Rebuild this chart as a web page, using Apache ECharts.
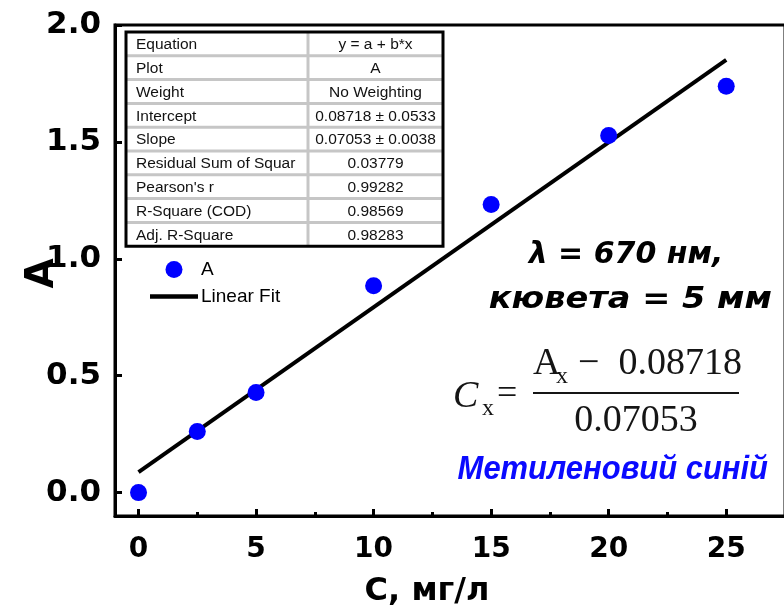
<!DOCTYPE html>
<html>
<head>
<meta charset="utf-8">
<script src="https://cdn.jsdelivr.net/npm/echarts@6/dist/echarts.min.js"></script>
<style>
  html, body { margin: 0; padding: 0; background: #ffffff; }
  #chart { width: 784px; height: 608px; }
</style>
</head>
<body>
<div id="chart"></div>
<script>
// Calibration points: concentration (mg/L) vs absorbance
const concentration = [0, 2.5, 5, 10, 15, 20, 25];
const absorbance = [0.0, 0.261, 0.428, 0.885, 1.232, 1.527, 1.738];

// Linear fit parameters y = a + b*x
const fitIntercept = 0.08718;
const fitSlope = 0.07053;
const fitRange = [0, 25];

// Axis tick positions
const xTickValues = [0, 5, 10, 15, 20, 25];
const xMinorTickValues = [2.5, 7.5, 12.5, 17.5, 22.5];
const yTickValues = [0, 0.5, 1.0, 1.5, 2.0];

// Fit report table
const tableLabels = ['Equation', 'Plot', 'Weight', 'Intercept', 'Slope',
  'Residual Sum of Squar', "Pearson's r", 'R-Square (COD)', 'Adj. R-Square'];
const tableValues = ['y = a + b*x', 'A', 'No Weighting', '0.08718 ± 0.0533',
  '0.07053 ± 0.0038', '0.03779', '0.99282', '0.98569', '0.98283'];

const BOLD_FONT = 'DejaVu Sans';
const TEXT_FONT = 'Liberation Sans';
const SERIF_FONT = 'Liberation Serif';

const scatterData = concentration.map((c, i) => [c, absorbance[i]]);
const fitData = fitRange.map(x => [x, fitIntercept + fitSlope * x]);

// Build the fit report table as graphic elements
function buildTable() {
  const left = 126, top = 32, width = 317, rowH = 23.8, colX = 182;
  const height = rowH * tableLabels.length;
  const children = [];
  children.push({
    type: 'rect', shape: { x: 0, y: 0, width: width, height: height },
    style: { fill: '#ffffff' }
  });
  for (let i = 1; i < tableLabels.length; i++) {
    children.push({
      type: 'line', shape: { x1: 0, y1: i * rowH, x2: width, y2: i * rowH },
      style: { stroke: '#c6c6c6', lineWidth: 3 }
    });
  }
  children.push({
    type: 'line', shape: { x1: colX, y1: 0, x2: colX, y2: height },
    style: { stroke: '#c6c6c6', lineWidth: 3 }
  });
  tableLabels.forEach((label, i) => {
    children.push({
      type: 'text', x: 10, y: i * rowH + rowH / 2 + 1,
      style: { text: label, font: '15.5px "' + TEXT_FONT + '"', fill: '#111',
        textAlign: 'left', textVerticalAlign: 'middle' }
    });
    children.push({
      type: 'text', x: colX + (width - colX) / 2, y: i * rowH + rowH / 2 + 1,
      style: { text: tableValues[i], font: '15.5px "' + TEXT_FONT + '"', fill: '#111',
        textAlign: 'center', textVerticalAlign: 'middle' }
    });
  });
  children.push({
    type: 'rect', shape: { x: 0, y: 0, width: width, height: height },
    style: { fill: null, stroke: '#000', lineWidth: 3 }
  });
  return { type: 'group', x: left, y: top, z: 100, children: children };
}

// Concentration formula  C_x = (A_x − a) / b
function buildFormula() {
  const f = SERIF_FONT;
  const ink = '#151515';
  const els = [];
  els.push({ type: 'text', x: 453, y: 397,
    style: { text: 'C', font: 'italic 38px "' + f + '"', fill: ink, textVerticalAlign: 'middle' } });
  els.push({ type: 'text', x: 482, y: 409,
    style: { text: 'x', font: '24px "' + f + '"', fill: ink, textVerticalAlign: 'middle' } });
  els.push({ type: 'text', x: 497, y: 395,
    style: { text: '=', font: '36px "' + f + '"', fill: ink, textVerticalAlign: 'middle' } });
  els.push({ type: 'text', x: 533, y: 364,
    style: { text: 'A', font: '38px "' + f + '"', fill: ink, textVerticalAlign: 'middle' } });
  els.push({ type: 'text', x: 556, y: 377,
    style: { text: 'x', font: '24px "' + f + '"', fill: ink, textVerticalAlign: 'middle' } });
  els.push({ type: 'text', x: 578, y: 364,
    style: { text: '−  ' + fitIntercept.toFixed(5), font: '38px "' + f + '"', fill: ink, textVerticalAlign: 'middle' } });
  els.push({ type: 'line', shape: { x1: 533, y1: 393, x2: 739, y2: 393 },
    style: { stroke: ink, lineWidth: 2 } });
  els.push({ type: 'text', x: 636, y: 421,
    style: { text: fitSlope.toFixed(5), font: '38px "' + f + '"', fill: ink,
      textAlign: 'center', textVerticalAlign: 'middle' } });
  return els;
}

const chart = echarts.init(document.getElementById('chart'), null, { renderer: 'canvas' });

const boldLabel = (size) => ({
  fontFamily: BOLD_FONT, fontWeight: 'bold', fontSize: size, color: '#000'
});

chart.setOption({
  backgroundColor: '#ffffff',
  animation: false,
  grid: {
    left: 115, top: 25, width: 670, height: 491,
    containLabel: false, outerBoundsMode: 'none',
    show: true, borderColor: '#000', borderWidth: 3, backgroundColor: 'transparent'
  },
  legend: {
    orient: 'vertical', left: 150, top: 260, padding: 0,
    itemWidth: 48, itemHeight: 17, itemGap: 8,
    textStyle: { fontFamily: TEXT_FONT, fontSize: 19, color: '#000', padding: [0, 0, 0, -2] },
    data: [
      { name: 'A', icon: 'circle' },
      { name: 'Linear Fit', icon: 'path://M0,0 L48,0 L48,4.5 L0,4.5 Z', itemStyle: { color: '#000' } }
    ]
  },
  xAxis: [{
    type: 'value', min: -1, max: 27.5, position: 'bottom',
    axisLine: { show: true, onZero: false, lineStyle: { color: '#000', width: 3 } },
    axisTick: { show: true, inside: true, length: 7, customValues: xTickValues,
      lineStyle: { color: '#000', width: 3 } },
    axisLabel: Object.assign({ customValues: xTickValues, margin: 20 }, boldLabel(28)),
    splitLine: { show: false },
    name: 'С, мг/л', nameLocation: 'middle', nameGap: 60, nameMoveOverlap: false,
    nameTextStyle: Object.assign({ padding: [0, 46, 0, 0] }, boldLabel(32))
  }, {
    type: 'value', min: -1, max: 27.5, position: 'bottom',
    axisLine: { show: false, onZero: false },
    axisTick: { show: true, inside: true, length: 4, customValues: xMinorTickValues,
      lineStyle: { color: '#000', width: 3 } },
    axisLabel: { show: false },
    splitLine: { show: false }
  }],
  yAxis: {
    type: 'value', min: -0.1, max: 2.0,
    axisLine: { show: true, onZero: false, lineStyle: { color: '#000', width: 3 } },
    axisTick: { show: true, inside: true, length: 7, customValues: yTickValues,
      lineStyle: { color: '#000', width: 3 } },
    axisLabel: Object.assign({ customValues: yTickValues, margin: 14,
      formatter: v => v.toFixed(1) }, boldLabel(31)),
    splitLine: { show: false },
    name: 'A', nameLocation: 'middle', nameGap: 53, nameRotate: 90, nameMoveOverlap: false,
    nameTextStyle: Object.assign({ padding: [0, 6, 0, 0] }, boldLabel(39))
  },
  series: [{
    name: 'A', type: 'scatter', data: scatterData,
    symbol: 'circle', symbolSize: 17,
    itemStyle: { color: '#0000ff', opacity: 1 }, z: 5
  }, {
    name: 'Linear Fit', type: 'line', data: fitData,
    showSymbol: false, symbol: 'none',
    lineStyle: { color: '#000', width: 4 },
    itemStyle: { color: '#000' }, z: 4
  }],
  graphic: [
    buildTable(),
    { type: 'text', x: 626, y: 255,
      style: { text: 'λ = 670 нм,', font: 'italic bold 30px "' + BOLD_FONT + '"',
        fill: '#000', textAlign: 'center', textVerticalAlign: 'middle' } },
    { type: 'text', x: 772, y: 300, scaleX: 1.12,
      style: { text: 'кювета = 5 мм', font: 'italic bold 30px "' + BOLD_FONT + '"',
        fill: '#000', textAlign: 'right', textVerticalAlign: 'middle' } },
    ...buildFormula(),
    { type: 'text', x: 768, y: 470, scaleX: 0.91,
      style: { text: 'Метиленовий синій', font: 'italic bold 34px "' + TEXT_FONT + '"',
        fill: '#0a0aff', textAlign: 'right', textVerticalAlign: 'middle' } }
  ]
});
</script>
</body>
</html>
